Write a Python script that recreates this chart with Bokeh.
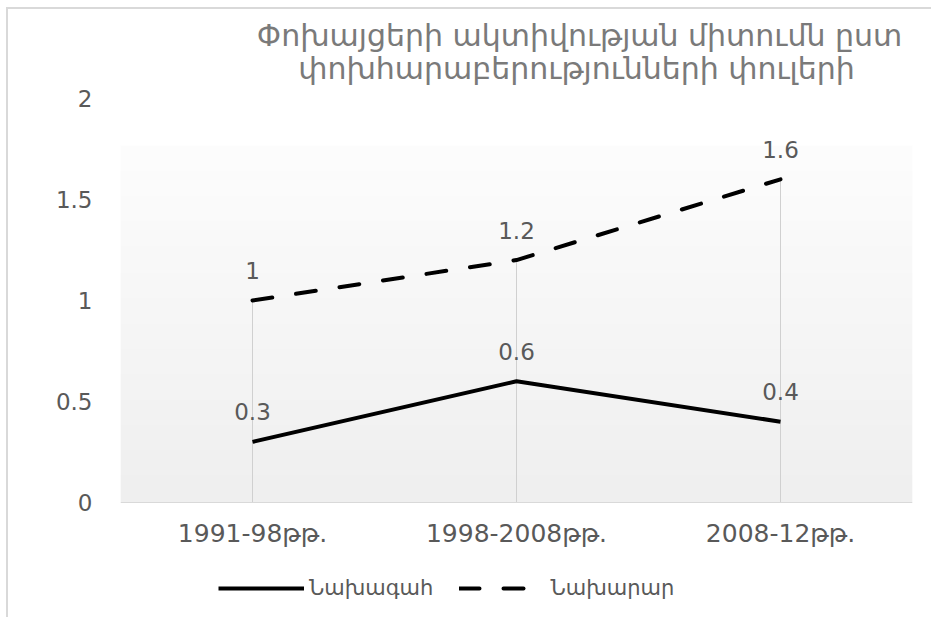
import numpy as np
from bokeh.plotting import figure
from bokeh.models import (ColumnDataSource, LabelSet, Label, FixedTicker, Legend, LegendItem, FactorRange, Range1d)
from bokeh.core.properties import value
from bokeh.embed import file_html
from bokeh.resources import INLINE

title_lines = ["Փոխայցերի ակտիվության միտումն ըստ", "փոխհարաբերությունների փուլերի"]
categories = ["1991-98թթ.", "1998-2008թթ.", "2008-12թթ."]
president = [0.3, 0.6, 0.4]
minister = [1.0, 1.2, 1.6]
series_names = ["Նախագահ", "Նախարար"]
y_ticks = [0, 0.5, 1, 1.5, 2]
y_tick_labels = ["0", "0.5", "1", "1.5", "2"]

FONT = "DejaVu Sans"
GRAY = "#595959"

# The frame covers the whole canvas height; the value axis 0..2 occupies 404 px of it
# (202 px per unit), leaving room above for the title and below for the category labels and legend.
PX_PER_UNIT = 202.0
Y_MIN = -117 / PX_PER_UNIT
Y_MAX = 2 + 89 / PX_PER_UNIT

p = figure(width=925, height=610, x_range=FactorRange(*categories), y_range=Range1d(Y_MIN, Y_MAX),
           output_backend="svg", toolbar_location=None,
           min_border_left=112, min_border_right=21, min_border_top=0, min_border_bottom=0)
p.outline_line_color = None
p.xgrid.grid_line_color = None
p.ygrid.grid_line_color = None
p.background_fill_color = "white"
p.border_fill_color = "white"
p.styles = {"border-top": "2px solid #d9d9d9", "border-left": "2px solid #d9d9d9",
            "margin-left": "6px", "margin-top": "7px"}

# gradient plot-area background
n = 200
g = np.linspace(239, 253, n)
img = np.zeros((n, 2), dtype=np.uint32)
view = img.view(dtype=np.uint8).reshape((n, 2, 4))
for i in range(n):
    view[i, :, 0] = int(g[i]); view[i, :, 1] = int(g[i]); view[i, :, 2] = int(g[i]); view[i, :, 3] = 255
p.image_rgba(image=[img], x=0, y=0, dw=len(categories), dh=1.767, level="image")

# drop lines
tops = [max(a, b) for a, b in zip(president, minister)]
p.segment(x0=categories, y0=[0] * len(categories), x1=categories, y1=tops, line_color="#d0d0d0", line_width=1)

src = ColumnDataSource(dict(x=categories, pres=president, mins=minister,
                            pres_t=[f"{v:g}" for v in president], mins_t=[f"{v:g}" for v in minister]))
r1 = p.line("x", "pres", source=src, line_color="black", line_width=4, line_join="round")
r2 = p.line("x", "mins", source=src, line_color="black", line_width=4, line_dash="20 24", line_cap="round")

for col, tcol in (("pres", "pres_t"), ("mins", "mins_t")):
    p.add_layout(LabelSet(x="x", y=col, text=tcol, source=src, y_offset=30, text_align="center",
                          text_baseline="middle", text_font=value(FONT), text_font_size=value("23px"),
                          text_color=GRAY))

# axes
p.yaxis.ticker = FixedTicker(ticks=y_ticks)
p.yaxis.major_label_overrides = {t: l for t, l in zip(y_ticks, y_tick_labels)}
p.yaxis.axis_line_color = None
p.yaxis.major_tick_line_color = None
p.yaxis.minor_tick_line_color = None
p.yaxis.major_tick_out = 0
p.yaxis.major_label_standoff = 28
p.yaxis.major_label_text_font = FONT
p.yaxis.major_label_text_font_size = "23px"
p.yaxis.major_label_text_color = GRAY

p.xaxis.fixed_location = 0
p.xaxis.axis_line_color = "#d9d9d9"
p.xaxis.major_tick_line_color = None
p.xaxis.minor_tick_line_color = None
p.xaxis.major_tick_out = 0
p.xaxis.major_label_standoff = 16
p.xaxis.major_label_text_font = FONT
p.xaxis.major_label_text_font_size = "25px"
p.xaxis.major_label_text_color = GRAY

# title (two centred lines)
title_x = [459, 456]
title_y = [(502 - 35) / PX_PER_UNIT, (502 - 68) / PX_PER_UNIT]
for t, tx, ty in zip(title_lines, title_x, title_y):
    p.add_layout(Label(x=tx, y=ty, x_units="screen", y_units="data", text=t,
                       text_align="center", text_baseline="middle", text_font=FONT,
                       text_font_size="30px", text_color="#7a7a7a"))

legend = Legend(items=[LegendItem(label=series_names[0], renderers=[r1]),
                       LegendItem(label=series_names[1], renderers=[r2])],
                orientation="horizontal", location=(98, 19), padding=0, margin=0,
                glyph_width=86, glyph_height=20, label_standoff=5, spacing=26,
                border_line_color=None, background_fill_alpha=0,
                label_text_font=FONT, label_text_font_size="21px", label_text_color=GRAY)
p.add_layout(legend, "center")

open("out.html", "w").write(file_html(p, INLINE))
